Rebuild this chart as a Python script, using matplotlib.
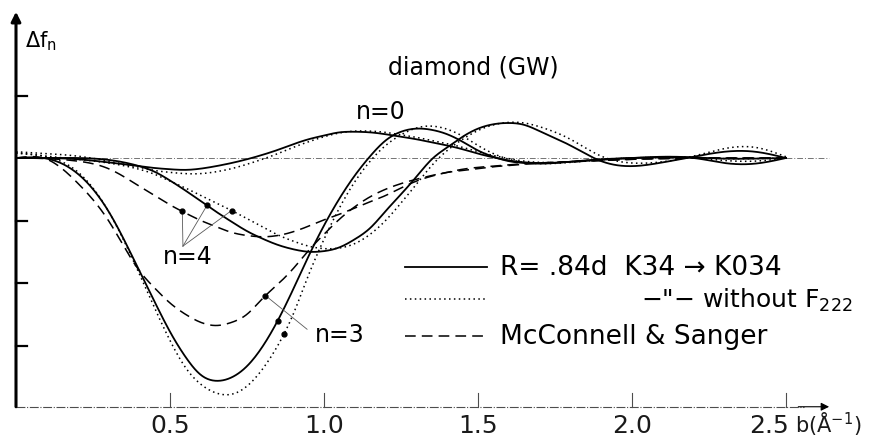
import matplotlib
matplotlib.use("Agg")
import matplotlib.pyplot as plt
import numpy as np

# b (1/A) knots shared by every curve
b_knots = [0, .1, .2, .3, .4, .45, .5, .55, .6, .65, .7, .75, .8, .85, .9, .95,
           1.0, 1.05, 1.1, 1.15, 1.2, 1.25, 1.3, 1.35, 1.4, 1.45, 1.5, 1.55, 1.6,
           1.65, 1.7, 1.8, 1.9, 2.0, 2.1, 2.2, 2.3, 2.4, 2.5]

# R = .84d K34 -> K034 (solid)
n0_solid = [0, 0, -.02, -.07, -.13, -.16, -.18, -.19, -.17, -.13, -.08, -.02, .05, .13,
            .22, .30, .36, .41, .42, .41, .38, .34, .30, .25, .20, .14, .07, .01, -.04,
            -.07, -.08, -.06, -.02, 0, .02, .01, -.01, -.01, 0]
n3_solid = [0, -.01, -.25, -.85, -1.8, -2.3, -2.78, -3.18, -3.47, -3.565, -3.51, -3.33,
            -3.02, -2.6, -2.1, -1.57, -1.08, -.65, -.28, .03, .28, .42, .47, .45, .38,
            .26, .12, .02, -.05, -.08, -.09, -.06, -.03, 0, .01, 0, -.08, -.09, 0]
n4_solid = [0, 0, 0, -.03, -.13, -.22, -.36, -.52, -.69, -.86, -1.02, -1.17, -1.29, -1.39,
            -1.46, -1.5, -1.49, -1.43, -1.3, -1.12, -.85, -.58, -.3, -.02, .17, .34, .47,
            .54, .56, .53, .43, .2, -.05, -.13, -.07, .02, .1, .1, 0]

# same, without F222 (dotted)
n0_dotted = [.1, .07, .03, -.05, -.15, -.2, -.23, -.25, -.25, -.22, -.17, -.1, -.02, .07,
             .17, .26, .34, .40, .43, .43, .41, .37, .33, .28, .23, .17, .10, .04, -.01,
             -.05, -.07, -.06, -.02, 0, .02, .01, -.01, -.01, 0]
n3_dotted = [.08, .02, -.22, -.85, -1.85, -2.4, -2.92, -3.35, -3.62, -3.76, -3.78, -3.65,
             -3.38, -3.0, -2.5, -1.87, -1.3, -.8, -.38, -.05, .2, .37, .48, .51, .46, .35,
             .2, .07, -.02, -.07, -.09, -.07, -.03, 0, .01, 0, -.04, -.05, 0]
n4_dotted = [.08, .03, -.02, -.08, -.18, -.26, -.37, -.48, -.6, -.72, -.84, -.97, -1.1,
             -1.23, -1.33, -1.41, -1.45, -1.44, -1.37, -1.22, -1.0, -.72, -.42, -.12, .12,
             .3, .44, .53, .57, .56, .5, .3, .03, -.08, -.06, .03, .15, .17, .02]

# McConnell & Sanger (dashed)
n3_dashed = [0, -.02, -.4, -1.0, -1.8, -2.08, -2.32, -2.5, -2.63, -2.68, -2.63, -2.5, -2.25,
             -2.02, -1.77, -1.48, -1.22, -.98, -.78, -.62, -.5, -.41, -.34, -.28, -.23,
             -.2, -.17, -.14, -.12, -.1, -.08, -.06, -.04, -.02, -.01, 0, 0, 0, 0]
n4_dashed = [0, -.01, -.05, -.17, -.45, -.6, -.75, -.88, -1.0, -1.1, -1.19, -1.24, -1.26,
             -1.24, -1.18, -1.09, -.99, -.9, -.8, -.7, -.6, -.48, -.37, -.29, -.23, -.18,
             -.15, -.13, -.11, -.09, -.08, -.06, -.04, -.02, -.01, 0, 0, 0, 0]

x_ticks = [0.5, 1.0, 1.5, 2.0, 2.5]
x_tick_labels = ["0.5", "1.0", "1.5", "2.0", "2.5"]
y_ticks = [1, -1, -2, -3]

n4_marks = {"dashed": 0.54, "solid": 0.62, "dotted": 0.70}
n3_marks = {"dashed": 0.81, "solid": 0.85, "dotted": 0.87}


def spline(x, y, xn):
  x = np.asarray(x, float)
  y = np.asarray(y, float)
  n = len(x)
  h = np.diff(x)
  A = np.zeros((n, n))
  r = np.zeros(n)
  A[0, 0] = A[-1, -1] = 1
  for i in range(1, n - 1):
    A[i, i - 1] = h[i - 1]
    A[i, i] = 2 * (h[i - 1] + h[i])
    A[i, i + 1] = h[i]
    r[i] = 3 * ((y[i + 1] - y[i]) / h[i] - (y[i] - y[i - 1]) / h[i - 1])
  c = np.linalg.solve(A, r)
  b = (y[1:] - y[:-1]) / h - h * (2 * c[:-1] + c[1:]) / 3
  d = (c[1:] - c[:-1]) / (3 * h)
  k = np.clip(np.searchsorted(x, xn) - 1, 0, n - 2)
  t = xn - x[k]
  return y[k] + b[k] * t + c[k] * t ** 2 + d[k] * t ** 3


styles = {
  "solid": dict(color="black", lw=1.3, ls="-"),
  "dotted": dict(color="black", lw=1.1, ls=(0, (1, 2.2))),
  "dashed": dict(color="black", lw=1.1, ls=(0, (7, 4))),
}

fig = plt.figure(figsize=(8.75, 4.39), dpi=100)
ax = fig.add_axes([0, 0, 1, 1])
ax.set_xlim(-16 / 308, (875 - 16) / 308)
ax.set_ylim((159 - 439) / 62.5, 159 / 62.5)
ax.axis("off")

x_bottom = -3.98

# zero reference line
ax.plot([0, 2.64], [0, 0], color="0.45", lw=0.7, ls=(0, (6, 2, 1, 2)))

xf = np.linspace(0, 2.5, 600)
curves = {
  "solid": [n0_solid, n3_solid, n4_solid],
  "dotted": [n0_dotted, n3_dotted, n4_dotted],
  "dashed": [n3_dashed, n4_dashed],
}
for kind, ys in curves.items():
  for y in ys:
    ax.plot(xf, spline(b_knots, y, xf), **styles[kind])

# axes
ax.annotate("", xy=(0, 2.34), xytext=(0, x_bottom),
            arrowprops=dict(arrowstyle="-|>", lw=2.2, color="black", mutation_scale=14,
                            shrinkA=0, shrinkB=0))
for yt in y_ticks:
  ax.plot([0, 0.035], [yt, yt], color="black", lw=1.6)
ax.plot([0, 2.56], [x_bottom, x_bottom], color="0.3", lw=0.8, ls=(0, (8, 1.5, 1, 1.5)))
ax.annotate("", xy=(2.64, x_bottom), xytext=(2.54, x_bottom),
            arrowprops=dict(arrowstyle="-|>", lw=0.8, color="black", mutation_scale=12,
                            shrinkA=0, shrinkB=0))
for xt, lab in zip(x_ticks, x_tick_labels):
  ax.plot([xt, xt], [x_bottom, x_bottom + 0.22], color="0.3", lw=0.8)
  dx = -0.055 if lab == "2.5" else 0
  ax.text(xt + dx, -4.27, lab, ha="center", va="center", fontsize=18, color="0.1")
ax.text(2.528, -4.24, "b(Å$^{-1}$)", ha="left", va="center", fontsize=15, color="0.1")

ax.text(0.03, 1.79, "Δf$_{\\mathrm{n}}$", ha="left", va="baseline", fontsize=15)
ax.text(1.484, 1.46, "diamond (GW)", ha="center", va="center", fontsize=17)
ax.text(1.185, 0.75, "n=0", ha="center", va="center", fontsize=17)
ax.text(0.558, -1.57, "n=4", ha="center", va="center", fontsize=17)
ax.text(1.05, -2.82, "n=3", ha="center", va="center", fontsize=17)

# pointer dots
curve_for = {
  ("n4", "solid"): n4_solid, ("n4", "dotted"): n4_dotted, ("n4", "dashed"): n4_dashed,
  ("n3", "solid"): n3_solid, ("n3", "dotted"): n3_dotted, ("n3", "dashed"): n3_dashed,
}
for kind, xm in n4_marks.items():
  ym = spline(b_knots, curve_for[("n4", kind)], np.array([xm]))[0]
  ax.plot([0.542, xm], [-1.41, ym], color="0.35", lw=0.6)
  ax.plot(xm, ym, "o", color="black", ms=3.5)
for kind, xm in n3_marks.items():
  ym = spline(b_knots, curve_for[("n3", kind)], np.array([xm]))[0]
  if kind == "dashed":
    ax.plot([xm, 0.945], [ym, -2.74], color="0.35", lw=0.6)
  ax.plot(xm, ym, "o", color="black", ms=3.5)

# key
key_x = [1.263, 1.529]
ax.plot(key_x, [-1.74, -1.74], **styles["solid"])
ax.text(1.571, -1.74, "R= .84d  K34 → K034", ha="left", va="center", fontsize=19)
ax.plot(key_x, [-2.26, -2.26], **styles["dotted"])
ax.text(2.03, -2.26, "−\"− without F$_{222}$", ha="left", va="center", fontsize=18)
ax.plot(key_x, [-2.85, -2.85], **styles["dashed"])
ax.text(1.571, -2.85, "McConnell & Sanger", ha="left", va="center", fontsize=19)

plt.savefig("out.png", dpi=100)
